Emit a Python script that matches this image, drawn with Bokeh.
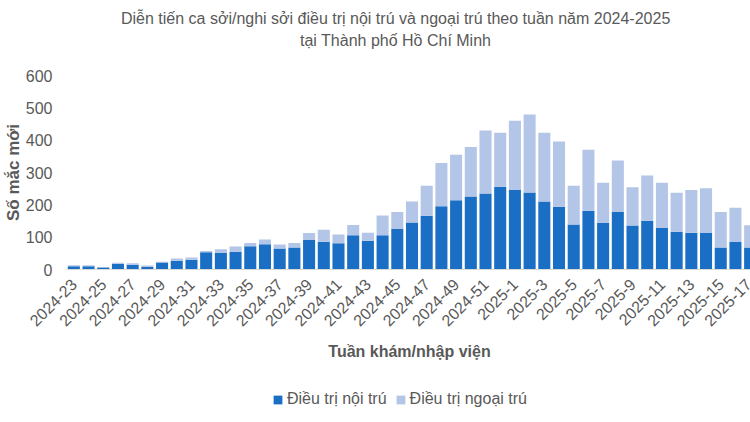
import math
from bokeh.plotting import figure
from bokeh.layouts import column
from bokeh.models import ColumnDataSource, Range1d, FixedTicker, Legend, LegendItem, Label
from bokeh.embed import file_html
from bokeh.resources import INLINE

weeks = [f"2024-{w}" for w in range(23, 53)] + [f"2025-{w}" for w in range(1, 18)]
noi_tru = [10, 10, 6, 18, 15, 8, 22, 27, 30, 53, 51, 55, 72, 78, 65, 68, 91, 86, 81, 106,
           89, 106, 125, 145, 166, 196, 214, 226, 235, 256, 246, 238, 210, 194, 139, 182,
           144, 178, 136, 151, 128, 117, 114, 113, 68, 85, 68]
ngoai_tru = [3, 3, 1, 3, 4, 4, 2, 7, 7, 4, 12, 16, 10, 15, 12, 14, 22, 37, 27, 32, 25, 61,
             53, 65, 93, 133, 141, 153, 195, 167, 214, 241, 213, 202, 120, 188, 124, 159,
             118, 140, 140, 120, 132, 138, 110, 106, 69]
y_ticks = [0, 100, 200, 300, 400, 500, 600]
series_names = ["Điều trị nội trú", "Điều trị ngoại trú"]
title_lines = ["Diễn tiến ca sởi/nghi sởi điều trị nội trú và ngoại trú theo tuần năm 2024-2025",
               "tại Thành phố Hồ Chí Minh"]

FONT = "Liberation Sans"
GREY = "#595959"
DARK = "#1A6FC4"
LIGHT = "#B4C6E7"

idx = list(range(len(weeks)))
src = ColumnDataSource(dict(x=idx, noi=noi_tru, ngoai=ngoai_tru))


def strip(height, xr):
    f = figure(width=742, height=height, output_backend="svg", toolbar_location=None,
               x_range=xr, y_range=Range1d(0, height),
               x_axis_location=None, y_axis_location=None,
               min_border_left=0, min_border_right=0, min_border_top=0, min_border_bottom=0)
    f.outline_line_color = None
    f.xgrid.grid_line_color = None
    f.ygrid.grid_line_color = None
    return f


# ---- title strip
top = strip(65, Range1d(0, 686))
for txt, yy in zip(title_lines, [47, 25]):
    top.add_layout(Label(x=334, y=yy, text=txt, text_align="center", text_baseline="middle",
                         text_font=FONT, text_font_size="16px", text_color=GREY))

# ---- main chart
p = figure(frame_width=686, frame_height=194, output_backend="svg", toolbar_location=None,
           x_range=Range1d(-0.5, 46.16), y_range=Range1d(0, 600),
           min_border_left=0, min_border_right=0, min_border_top=10, min_border_bottom=113)
p.outline_line_color = None
p.xgrid.grid_line_color = None
p.ygrid.grid_line_color = None

r = p.vbar_stack(["noi", "ngoai"], x="x", width=0.82, source=src,
                 color=[DARK, LIGHT], line_color=None)

xa = p.xaxis[0]
xa.ticker = FixedTicker(ticks=idx[::2])
xa.major_label_overrides = {i: weeks[i] for i in idx}
xa.major_label_orientation = math.pi / 4
xa.major_label_text_font = FONT
xa.major_label_text_font_size = "16px"
xa.major_label_text_color = GREY
xa.major_tick_line_color = None
xa.minor_tick_line_color = None
xa.axis_line_color = "#D9D9D9"
xa.major_label_standoff = 6
xa.axis_label = "Tuần khám/nhập viện"
xa.axis_label_text_font = FONT
xa.axis_label_text_font_size = "16px"
xa.axis_label_text_font_style = "bold"
xa.axis_label_text_color = GREY
xa.axis_label_standoff = 8

ya = p.yaxis[0]
ya.ticker = FixedTicker(ticks=y_ticks)
ya.major_label_text_font = FONT
ya.major_label_text_font_size = "16px"
ya.major_label_text_color = GREY
ya.major_tick_line_color = None
ya.minor_tick_line_color = None
ya.axis_line_color = None
ya.major_label_standoff = 8
ya.axis_label = "Số mắc mới"
ya.axis_label_text_font = FONT
ya.axis_label_text_font_size = "17px"
ya.axis_label_text_font_style = "bold"
ya.axis_label_text_color = GREY
ya.axis_label_standoff = 0

# ---- legend strip (hidden copies of the series provide the legend keys)
lg = strip(32, Range1d(-0.5, 46.16))
k = lg.vbar_stack(["noi", "ngoai"], x="x", width=0.82, source=src,
                  color=[DARK, LIGHT], line_color=None, visible=False)
legend = Legend(items=[LegendItem(label=series_names[0], renderers=[k[0]]),
                       LegendItem(label=series_names[1], renderers=[k[1]])],
                orientation="horizontal", location=(206, 6),
                label_text_font=FONT, label_text_font_size="16px", label_text_color=GREY,
                glyph_width=11, glyph_height=11, label_standoff=4, spacing=8,
                inactive_fill_alpha=0, click_policy="none",
                border_line_color=None, background_fill_alpha=0, margin=0, padding=0)
lg.add_layout(legend, "center")

layout = column(top, p, lg, spacing=0)
open("out.html", "w").write(file_html(layout, INLINE))
